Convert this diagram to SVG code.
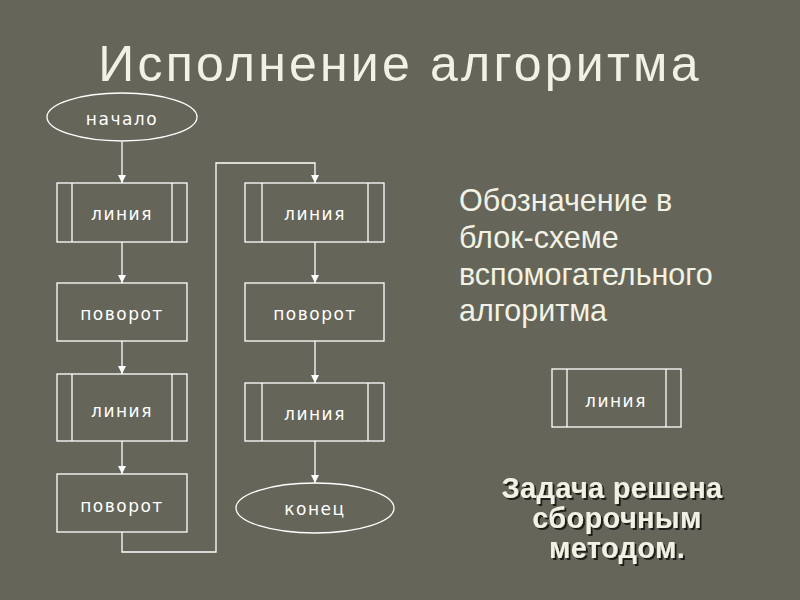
<svg xmlns="http://www.w3.org/2000/svg" width="800" height="600" viewBox="0 0 800 600">
<defs>
<marker id="arr" viewBox="0 0 10 10" refX="10" refY="5" markerWidth="8" markerHeight="8" markerUnits="userSpaceOnUse" orient="auto">
<path d="M0,0 L10,5 L0,10 Z" fill="#ffffff"/>
</marker>
<filter id="sh" x="-10%" y="-10%" width="130%" height="140%">
<feDropShadow dx="2" dy="2" stdDeviation="0.6" flood-color="#000" flood-opacity="0.7"/>
</filter>
</defs>
<style>
.bg{fill:#65655a}
.box{fill:none;stroke:#ffffff;stroke-width:1.3}
.ln{fill:none;stroke:#ffffff;stroke-width:1.3}
.nt{font-family:"DejaVu Sans","Liberation Sans",sans-serif;font-size:17px;fill:#ffffff;text-anchor:middle;letter-spacing:1.5px}
.title{font-family:"Liberation Sans",Arial,sans-serif;font-size:50px;fill:#f2f2e4;text-anchor:middle;letter-spacing:3.2px}
.side{font-family:"Liberation Sans",Arial,sans-serif;font-size:30.5px;fill:#f2f2e4}
.bold{font-family:"Liberation Sans",Arial,sans-serif;font-size:29px;font-weight:bold;fill:#f2f2e4;text-anchor:middle;letter-spacing:0.3px}
</style>
<rect class="bg" x="0" y="0" width="800" height="600"/>
<text class="title" x="400" y="81">Исполнение алгоритма</text>

<g id="connectors">
<line class="ln" x1="122" y1="142" x2="122" y2="183" marker-end="url(#arr)"/>
<line class="ln" x1="122" y1="242" x2="122" y2="283" marker-end="url(#arr)"/>
<line class="ln" x1="122" y1="341" x2="122" y2="374" marker-end="url(#arr)"/>
<line class="ln" x1="122" y1="441" x2="122" y2="474" marker-end="url(#arr)"/>
<polyline class="ln" points="122,532 122,552 216,552 216,163 315,163 315,183" marker-end="url(#arr)"/>
<line class="ln" x1="315" y1="242" x2="315" y2="283" marker-end="url(#arr)"/>
<line class="ln" x1="315" y1="341" x2="315" y2="383" marker-end="url(#arr)"/>
<line class="ln" x1="315" y1="441" x2="315" y2="483" marker-end="url(#arr)"/>
</g>

<g id="start">
<ellipse class="box" cx="122" cy="117" rx="75" ry="24"/>
<text class="nt" x="122" y="125">начало</text>
</g>
<g id="line1">
<rect class="box" x="57" y="183" width="130" height="59"/>
<line class="ln" x1="72" y1="183" x2="72" y2="242"/>
<line class="ln" x1="172" y1="183" x2="172" y2="242"/>
<text class="nt" x="122" y="220">линия</text>
</g>
<g id="turn1">
<rect class="box" x="57" y="283" width="130" height="58"/>
<text class="nt" x="122" y="320">поворот</text>
</g>
<g id="line2">
<rect class="box" x="57" y="374" width="130" height="67"/>
<line class="ln" x1="72" y1="374" x2="72" y2="441"/>
<line class="ln" x1="172" y1="374" x2="172" y2="441"/>
<text class="nt" x="122" y="417">линия</text>
</g>
<g id="turn2">
<rect class="box" x="57" y="474" width="130" height="58"/>
<text class="nt" x="122" y="512">поворот</text>
</g>
<g id="line3">
<rect class="box" x="245" y="183" width="139" height="59"/>
<line class="ln" x1="262" y1="183" x2="262" y2="242"/>
<line class="ln" x1="368" y1="183" x2="368" y2="242"/>
<text class="nt" x="315" y="220">линия</text>
</g>
<g id="turn3">
<rect class="box" x="245" y="283" width="139" height="58"/>
<text class="nt" x="315" y="320">поворот</text>
</g>
<g id="line4">
<rect class="box" x="245" y="383" width="139" height="58"/>
<line class="ln" x1="262" y1="383" x2="262" y2="441"/>
<line class="ln" x1="368" y1="383" x2="368" y2="441"/>
<text class="nt" x="315" y="420">линия</text>
</g>
<g id="end">
<ellipse class="box" cx="315" cy="508" rx="79" ry="25"/>
<text class="nt" x="315" y="515">конец</text>
</g>

<text class="side" x="459" y="211">Обозначение в</text>
<text class="side" x="459" y="248">блок-схеме</text>
<text class="side" x="459" y="285">вспомогательного</text>
<text class="side" x="459" y="321">алгоритма</text>

<g id="legend">
<rect class="box" x="552" y="369" width="129" height="58"/>
<line class="ln" x1="567" y1="369" x2="567" y2="427"/>
<line class="ln" x1="666" y1="369" x2="666" y2="427"/>
<text class="nt" x="616" y="407">линия</text>
</g>

<g filter="url(#sh)">
<text class="bold" x="612" y="498">Задача решена</text>
<text class="bold" x="617" y="528">сборочным</text>
<text class="bold" x="617" y="558">методом.</text>
</g>
</svg>
